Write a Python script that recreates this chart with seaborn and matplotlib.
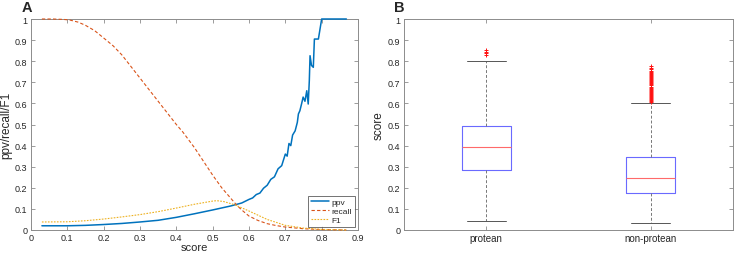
import numpy as np
import pandas as pd
import matplotlib
matplotlib.use('Agg')
import matplotlib.pyplot as plt
import seaborn as sns

# ── Panel A: ppv / recall / F1 vs score ──────────────────────────────────────
ppv_score = [0.03, 0.10, 0.15, 0.20, 0.25, 0.30, 0.35, 0.40, 0.45, 0.50, 0.55,
             0.58, 0.60, 0.61, 0.62, 0.63, 0.64, 0.65, 0.66, 0.67, 0.68, 0.69,
             0.70, 0.705, 0.71, 0.715, 0.72, 0.727, 0.733, 0.736, 0.740, 0.745,
             0.749, 0.754, 0.759, 0.763, 0.766, 0.768, 0.772, 0.777, 0.780,
             0.791, 0.800, 0.868]
ppv = [0.020, 0.020, 0.022, 0.026, 0.031, 0.038, 0.046, 0.060, 0.077, 0.095, 0.114,
       0.128, 0.145, 0.152, 0.168, 0.175, 0.198, 0.212, 0.240, 0.252, 0.290, 0.305,
       0.360, 0.350, 0.410, 0.400, 0.450, 0.470, 0.510, 0.550, 0.565, 0.600,
       0.630, 0.610, 0.660, 0.597, 0.708, 0.826, 0.780, 0.771, 0.905,
       0.905, 1.000, 1.000]

recall_score = [0.03, 0.06, 0.09, 0.107, 0.13, 0.15, 0.175, 0.20, 0.226, 0.25,
                0.275, 0.30, 0.325, 0.35, 0.375, 0.40, 0.418, 0.45, 0.475, 0.50,
                0.525, 0.55, 0.566, 0.58, 0.60, 0.625, 0.65, 0.675, 0.70, 0.75,
                0.80, 0.868]
recall = [1.0, 1.0, 0.998, 0.995, 0.985, 0.97, 0.945, 0.91, 0.873, 0.83,
          0.775, 0.72, 0.665, 0.61, 0.555, 0.50, 0.464, 0.39, 0.325, 0.26,
          0.20, 0.15, 0.118, 0.095, 0.066, 0.045, 0.030, 0.021, 0.014, 0.006,
          0.002, 0.0]

f1_score = [0.03, 0.10, 0.15, 0.20, 0.25, 0.30, 0.35, 0.40, 0.45, 0.50, 0.511,
            0.53, 0.56, 0.60, 0.65, 0.70, 0.75, 0.80, 0.868]
f1 = [0.038, 0.039, 0.044, 0.052, 0.062, 0.073, 0.087, 0.104, 0.122, 0.137, 0.139,
      0.135, 0.120, 0.090, 0.050, 0.022, 0.009, 0.003, 0.0]

# ── Panel B: box statistics ──────────────────────────────────────────────────
groups = ['protean', 'non-protean']
q1 = [0.285, 0.174]
med = [0.393, 0.246]
q3 = [0.493, 0.344]
whislo = [0.041, 0.032]
whishi = [0.802, 0.602]
fliers_protean = [0.830, 0.838, 0.845, 0.853]
fliers_nonprotean = [0.605, 0.610, 0.615, 0.620, 0.625, 0.630, 0.635, 0.640, 0.645,
                     0.650, 0.655, 0.660, 0.665, 0.670, 0.675, 0.680, 0.685, 0.690,
                     0.695, 0.700, 0.705, 0.710, 0.715, 0.720, 0.725, 0.730, 0.735,
                     0.740, 0.745, 0.750, 0.755, 0.762, 0.770, 0.778]

sns.set_theme(style='white')
plt.rcParams['font.family'] = ['Liberation Sans', 'DejaVu Sans']
AX_COL = '#8c8c8c'

fig = plt.figure(figsize=(7.38, 2.55), dpi=100)
axA = fig.add_axes([31/738, 24/255, 327/738, 211/255])
axB = fig.add_axes([404/738, 24/255, 329/738, 211/255])


def matlab_axes(ax):
    for s in ax.spines.values():
        s.set_color(AX_COL)
        s.set_linewidth(0.7)
        s.set_zorder(1)
    ax.tick_params(direction='in', length=3, width=0.6, color=AX_COL,
                   labelsize=6.5, labelcolor='#262626', top=True, right=True,
                   bottom=True, left=True, pad=2.5)


# Panel A
dfp = pd.DataFrame({'score': ppv_score, 'v': ppv})
dfr = pd.DataFrame({'score': recall_score, 'v': recall})
dff = pd.DataFrame({'score': f1_score, 'v': f1})
sns.lineplot(data=dfp, x='score', y='v', ax=axA, color='#0072BD', lw=1.1,
             label='ppv', estimator=None, sort=False)
sns.lineplot(data=dfr, x='score', y='v', ax=axA, color='#D95319', lw=0.8,
             label='recall', estimator=None)
axA.lines[-1].set_linestyle((0, (3, 2)))
sns.lineplot(data=dff, x='score', y='v', ax=axA, color='#EDB120', lw=0.8,
             label='F1', estimator=None)
axA.lines[-1].set_linestyle((0, (1.5, 1.2)))
for ln in axA.lines:
    ln.set_clip_on(False)
    ln.set_zorder(3)
axA.set_xlim(0, 0.9)
axA.set_ylim(0, 1)
xt = np.round(np.arange(0, 0.91, 0.1), 1)
yt = np.round(np.arange(0, 1.01, 0.1), 1)
axA.set_xticks(xt)
axA.set_xticklabels([f'{t:g}' for t in xt])
axA.set_yticks(yt)
axA.set_yticklabels([f'{t:g}' for t in yt])
axA.set_xlabel('score', fontsize=8, labelpad=0)
axA.set_ylabel('ppv/recall/F1', fontsize=8.5, labelpad=2)
matlab_axes(axA)
leg = axA.legend(loc='lower right', fontsize=6, frameon=True, fancybox=False,
                 handlelength=2.2, handletextpad=0.3, borderpad=0.3,
                 labelspacing=0.15, borderaxespad=0.4)
leg.get_frame().set_edgecolor('#333333')
leg.get_frame().set_linewidth(0.6)

# Panel B
stats = []
for i, g in enumerate(groups):
    stats.append({'label': g, 'q1': q1[i], 'med': med[i], 'q3': q3[i],
                  'whislo': whislo[i], 'whishi': whishi[i],
                  'fliers': [fliers_protean, fliers_nonprotean][i]})
axB.bxp(stats, positions=[1, 2], widths=0.3, capwidths=0.24,
        boxprops=dict(color='#6a6aff', lw=0.8),
        medianprops=dict(color='#ff6a6a', lw=0.8),
        whiskerprops=dict(color='#777777', lw=0.7, ls=(0, (3, 2))),
        capprops=dict(color='#555555', lw=0.7),
        flierprops=dict(marker='+', markeredgecolor='#ff1010', markersize=3,
                        markeredgewidth=0.7, linestyle='none'))
axB.set_xlim(0.5, 2.5)
axB.set_ylim(0, 1)
axB.set_yticks(yt)
axB.set_yticklabels([f'{t:g}' for t in yt])
axB.set_xticks([1, 2])
axB.set_xticklabels(groups)
axB.set_ylabel('score', fontsize=8.5, labelpad=2)
matlab_axes(axB)
axB.tick_params(axis='x', labelsize=7)

fig.text(22/738, 1 - 12/255, 'A', fontsize=10.5, fontweight='bold')
fig.text(394/738, 1 - 12/255, 'B', fontsize=10.5, fontweight='bold')

fig.savefig('out.png', dpi=100)
